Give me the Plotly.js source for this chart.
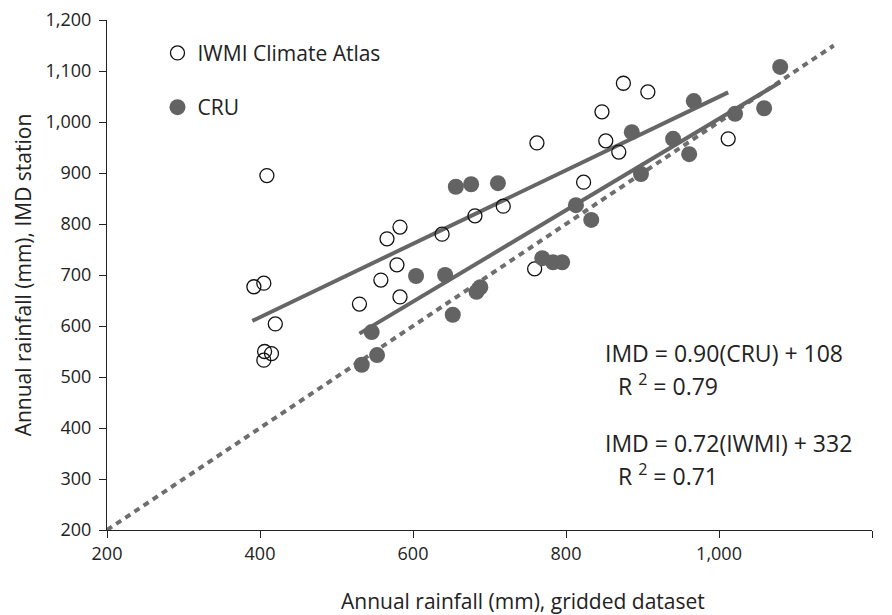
<!DOCTYPE html>
<html>
<head>
<meta charset="utf-8">
<script src="https://cdn.plot.ly/plotly-3.0.1.min.js"></script>
<style>html,body{margin:0;padding:0;background:#fff;}#chart{width:892px;height:615px;}</style>
</head>
<body>
<div id="chart"></div>
<script>
// IWMI Climate Atlas (open circles): gridded vs IMD station
const iwmiX = [409, 392, 405, 420, 406, 415, 405, 530, 558, 566, 583, 579, 583, 638, 681, 718, 762, 759, 823, 847, 875, 907, 852, 869, 1012];
const iwmiY = [895, 677, 684, 604, 550, 546, 533, 643, 690, 771, 794, 720, 657, 780, 816, 835, 959, 712, 882, 1020, 1076, 1059, 963, 941, 967];
// CRU (filled circles)
const cruX = [533, 553, 546, 604, 642, 656, 676, 711, 652, 688, 683, 769, 783, 795, 813, 833, 886, 898, 940, 961, 967, 1021, 1059, 1080];
const cruY = [524, 543, 588, 698, 700, 873, 878, 880, 622, 676, 667, 733, 725, 725, 837, 808, 980, 898, 967, 937, 1041, 1016, 1027, 1108];
// regression lines (end points)
const iwmiFitX = [390, 1012];
const iwmiFitY = [610, 1058];
const cruFitX = [530, 1080];
const cruFitY = [585, 1078];
// 1:1 line
const oneX = [200, 1150];
const oneY = [200, 1150];
const tickVals = [200, 300, 400, 500, 600, 700, 800, 900, 1000, 1100, 1200];
const xTickVals = [200, 400, 600, 800, 1000, 1200];
const xTitle = 'Annual rainfall (mm), gridded dataset';
const yTitle = 'Annual rainfall (mm), IMD station';

const FONT = '"Open Sans", "DejaVu Sans", sans-serif';
const grey = '#666666';
const txt = '#222';

const traces = [
  {x: oneX, y: oneY, mode: 'lines', line: {color: '#6e6e6e', width: 4, dash: '6px,5px'}, showlegend: false, hoverinfo: 'skip'},
  {x: iwmiFitX, y: iwmiFitY, mode: 'lines', line: {color: grey, width: 4}, showlegend: false, hoverinfo: 'skip'},
  {x: cruFitX, y: cruFitY, mode: 'lines', line: {color: grey, width: 4}, showlegend: false, hoverinfo: 'skip'},
  {x: iwmiX, y: iwmiY, mode: 'markers', name: 'IWMI Climate Atlas', legendgroup: 'a',
   marker: {symbol: 'circle-open', size: 14, color: '#111', line: {width: 1.3, color: '#111'}}},
  {x: cruX, y: cruY, mode: 'markers', name: 'CRU', legendgroup: 'b',
   marker: {symbol: 'circle', size: 16, color: '#636363', line: {width: 0}}}
];

const layout = {
  width: 892, height: 615,
  margin: {l: 107, r: 20, t: 20, b: 85},
  paper_bgcolor: '#fff', plot_bgcolor: '#fff',
  font: {family: FONT, color: txt, size: 17},
  showlegend: true,
  legend: {x: 0.066, y: 0.975, xanchor: 'left', yanchor: 'top', traceorder: 'grouped', tracegroupgap: 24,
           font: {family: FONT, size: 21, color: txt}, bgcolor: 'rgba(0,0,0,0)', itemwidth: 30},
  xaxis: {
    range: [200, 1200], tickvals: xTickVals, tickformat: ',d', showgrid: false, zeroline: false,
    showline: true, linecolor: txt, linewidth: 1, ticks: 'outside', ticklen: 7, tickcolor: txt,
    tickfont: {family: FONT, size: 18, color: txt}
  },
  yaxis: {
    range: [200, 1200], tickvals: tickVals, tickformat: ',d', showgrid: false, zeroline: false,
    showline: true, linecolor: txt, linewidth: 1, ticks: 'outside', ticklen: 7, tickcolor: txt,
    ticklabelstandoff: 4,
    tickfont: {family: FONT, size: 18, color: txt},
    title: {text: yTitle, font: {family: FONT, size: 21, color: txt}, standoff: 8}
  },
  annotations: [
    {x: 0.544, y: -0.139, xref: 'paper', yref: 'paper', xanchor: 'center', yanchor: 'middle', text: xTitle, showarrow: false, font: {family: FONT, size: 21, color: txt}},
    {x: 848, y: 547, xref: 'x', yref: 'y', xanchor: 'left', text: 'IMD = 0.90(CRU) + 108', showarrow: false, font: {family: FONT, size: 23, color: txt}},
    {x: 865, y: 484, xref: 'x', yref: 'y', xanchor: 'left', text: 'R <sup>2</sup> = 0.79', showarrow: false, font: {family: FONT, size: 23, color: txt}},
    {x: 848, y: 371, xref: 'x', yref: 'y', xanchor: 'left', text: 'IMD = 0.72(IWMI) + 332', showarrow: false, font: {family: FONT, size: 23, color: txt}},
    {x: 865, y: 308, xref: 'x', yref: 'y', xanchor: 'left', text: 'R <sup>2</sup> = 0.71', showarrow: false, font: {family: FONT, size: 23, color: txt}}
  ]
};

Plotly.newPlot('chart', traces, layout, {displayModeBar: false, staticPlot: true});
</script>
</body>
</html>
